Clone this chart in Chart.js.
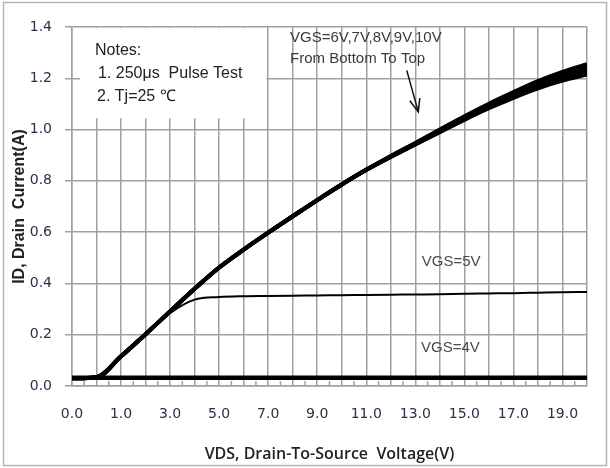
<!DOCTYPE html>
<html>
<head>
<meta charset="utf-8">
<script src="https://cdn.jsdelivr.net/npm/chart.js@4.4.1/dist/chart.umd.min.js"></script>
<style>
  body { margin: 0; background: #fff; }
  #wrap { position: relative; width: 610px; height: 468px; }
</style>
</head>
<body>
<div id="wrap"><canvas id="chart"></canvas></div>
<script>
// x positions (the first category carries the "0.0" label)
const vds = [-1, 0, 1, 2, 3, 4, 5, 6, 7, 8, 9, 10, 11, 12, 13, 14, 15, 16, 17, 18, 19, 20];
const xTickLabels = ["0.0", "", "1.0", "", "3.0", "", "5.0", "", "7.0", "", "9.0", "", "11.0", "", "13.0", "", "15.0", "", "17.0", "", "19.0", ""];
const yTickLabels = ["0.0", "0.2", "0.4", "0.6", "0.8", "1.0", "1.2", "1.4"];

const id4V  = [0.032, 0.032, 0.032, 0.032, 0.032, 0.032, 0.032, 0.032, 0.032, 0.032, 0.032, 0.032, 0.032, 0.032, 0.032, 0.032, 0.032, 0.032, 0.032, 0.032, 0.032, 0.032];
const id5V  = [0.030, 0.034, 0.115, 0.199, 0.284, 0.337, 0.347, 0.350, 0.351, 0.352, 0.353, 0.354, 0.355, 0.356, 0.357, 0.358, 0.360, 0.361, 0.362, 0.364, 0.366, 0.367];
const id6V  = [0.030, 0.034, 0.116, 0.202, 0.291, 0.379, 0.462, 0.532, 0.598, 0.662, 0.725, 0.786, 0.843, 0.893, 0.942, 0.990, 1.038, 1.083, 1.124, 1.161, 1.191, 1.215];
const id7V  = [0.030, 0.034, 0.116, 0.202, 0.291, 0.379, 0.462, 0.532, 0.598, 0.662, 0.725, 0.786, 0.843, 0.894, 0.943, 0.992, 1.041, 1.087, 1.129, 1.168, 1.199, 1.225];
const id8V  = [0.030, 0.034, 0.116, 0.202, 0.291, 0.379, 0.462, 0.532, 0.598, 0.662, 0.725, 0.786, 0.843, 0.895, 0.945, 0.995, 1.045, 1.092, 1.135, 1.175, 1.208, 1.235];
const id9V  = [0.030, 0.034, 0.116, 0.202, 0.291, 0.379, 0.462, 0.532, 0.598, 0.662, 0.725, 0.786, 0.843, 0.896, 0.947, 0.998, 1.049, 1.097, 1.141, 1.182, 1.217, 1.245];
const id10V = [0.030, 0.034, 0.116, 0.202, 0.291, 0.379, 0.462, 0.532, 0.598, 0.662, 0.725, 0.786, 0.843, 0.897, 0.948, 1.000, 1.052, 1.101, 1.146, 1.189, 1.225, 1.255];

const gridColor = "#a0a0a0";

function pts(ys) {
  return vds.map((x, i) => ({ x: x, y: ys[i] }));
}
function line(label, ys, width) {
  return {
    label: label,
    data: pts(ys),
    borderColor: "#000",
    borderWidth: width,
    pointRadius: 0,
    cubicInterpolationMode: "monotone",
    fill: false
  };
}

// frame, notes box, minor ticks, labels and arrow
const extras = {
  id: "extras",
  beforeDraw(chart) {
    const ctx = chart.ctx;
    ctx.save();
    ctx.fillStyle = "#fff";
    ctx.fillRect(0, 0, chart.width, chart.height);
    ctx.strokeStyle = "#b4b4b4";
    ctx.lineWidth = 1.5;
    ctx.strokeRect(3.5, 2.5, 603, 463);
    ctx.restore();
  },
  beforeDatasetsDraw(chart) {
    const ctx = chart.ctx, x = chart.scales.x, y = chart.scales.y;
    ctx.save();
    // notes box hides the grid behind it
    const bx0 = x.getPixelForValue(-0.67), bx1 = x.getPixelForValue(6.93);
    const by0 = y.getPixelForValue(1.4) + 1, by1 = y.getPixelForValue(1.044);
    ctx.fillStyle = "#fff";
    ctx.fillRect(bx0, by0, bx1 - bx0, by1 - by0);
    // small ticks on the x axis between gridlines
    ctx.strokeStyle = gridColor;
    ctx.lineWidth = 1.5;
    const yb = y.getPixelForValue(0);
    for (let i = 0; i < vds.length - 1; i++) {
      const px = x.getPixelForValue(vds[i] + 0.5);
      ctx.beginPath();
      ctx.moveTo(px, yb);
      ctx.lineTo(px, yb - 5);
      ctx.stroke();
    }
    ctx.restore();
  },
  afterDatasetsDraw(chart) {
    const ctx = chart.ctx, x = chart.scales.x, y = chart.scales.y;
    const X = v => x.getPixelForValue(v), Y = v => y.getPixelForValue(v);
    ctx.save();
    ctx.textBaseline = "middle";
    ctx.fillStyle = "#222";
    ctx.font = "16px 'Liberation Sans', Arial, sans-serif";
    ctx.fillText("Notes:", X(-0.06), Y(1.309));
    ctx.fillText("1. 250\u03bcs  Pulse Test", X(0.06), Y(1.219));
    ctx.fillText("2. Tj=25 \u2103", X(0.02), Y(1.13));

    ctx.fillStyle = "#3a3a3a";
    ctx.font = "15px 'Liberation Sans', Arial, sans-serif";
    ctx.fillText("VGS=6V,7V,8V,9V,10V", X(7.89), Y(1.356));
    ctx.fillText("From Bottom To Top", X(7.89), Y(1.274));
    ctx.fillStyle = "#4a4a4a";
    ctx.fillText("VGS=5V", X(13.26), Y(0.483));
    ctx.fillText("VGS=4V", X(13.23), Y(0.147));

    // arrow
    const ax0 = X(12.65), ay0 = Y(1.231), ax1 = X(13.12), ay1 = Y(1.069);
    ctx.strokeStyle = "#111";
    ctx.lineWidth = 1.5;
    ctx.beginPath();
    ctx.moveTo(ax0, ay0);
    ctx.lineTo(ax1, ay1);
    ctx.stroke();
    const ang = Math.atan2(ay1 - ay0, ax1 - ax0);
    ctx.beginPath();
    ctx.moveTo(ax1 - 14 * Math.cos(ang - 0.38), ay1 - 14 * Math.sin(ang - 0.38));
    ctx.lineTo(ax1, ay1);
    ctx.lineTo(ax1 - 14 * Math.cos(ang + 0.38), ay1 - 14 * Math.sin(ang + 0.38));
    ctx.stroke();
    ctx.restore();
  }
};

new Chart(document.getElementById("chart"), {
  type: "line",
  data: {
    datasets: [
      line("VGS=4V", id4V, 4.5),
      line("VGS=5V", id5V, 2),
      line("VGS=6V", id6V, 4),
      line("VGS=7V", id7V, 4),
      line("VGS=8V", id8V, 4),
      line("VGS=9V", id9V, 4),
      line("VGS=10V", id10V, 4)
    ]
  },
  options: {
    responsive: true,
    maintainAspectRatio: false,
    animation: false,
    layout: { padding: { top: 27, right: 23, left: 0, bottom: 0 } },
    plugins: { legend: { display: false }, tooltip: { enabled: false } },
    scales: {
      x: {
        type: "linear",
        min: -1,
        max: 20,
        afterFit: s => { s.height = 82; },
        ticks: {
          stepSize: 1,
          autoSkip: false,
          maxRotation: 0,
          padding: 20,
          color: "#2e2e48",
          font: { family: "'DejaVu Sans'", size: 14 },
          callback: (v, i) => xTickLabels[i]
        },
        grid: { color: gridColor, lineWidth: 1.5, drawTicks: false },
        border: { color: gridColor, width: 1.5 },
        title: {
          display: true,
          text: "VDS, Drain-To-Source  Voltage(V)",
          color: "#222",
          font: { family: "'Open Sans'", size: 16, weight: "600" },
          padding: { top: 0, bottom: 4 }
        }
      },
      y: {
        min: 0,
        max: 1.4,
        afterFit: s => { s.width = 72; },
        ticks: {
          stepSize: 0.2,
          padding: 13,
          color: "#2e2e48",
          font: { family: "'DejaVu Sans'", size: 14 },
          callback: (v, i) => yTickLabels[i]
        },
        grid: { color: gridColor, lineWidth: 1.5, tickLength: 7 },
        border: { color: gridColor, width: 1.5 },
        title: {
          display: true,
          text: "ID, Drain  Current(A)",
          color: "#222",
          font: { family: "'Liberation Sans'", size: 16, weight: "bold" },
          padding: { top: 10, bottom: 0 }
        }
      }
    }
  },
  plugins: [extras]
});
</script>
</body>
</html>
